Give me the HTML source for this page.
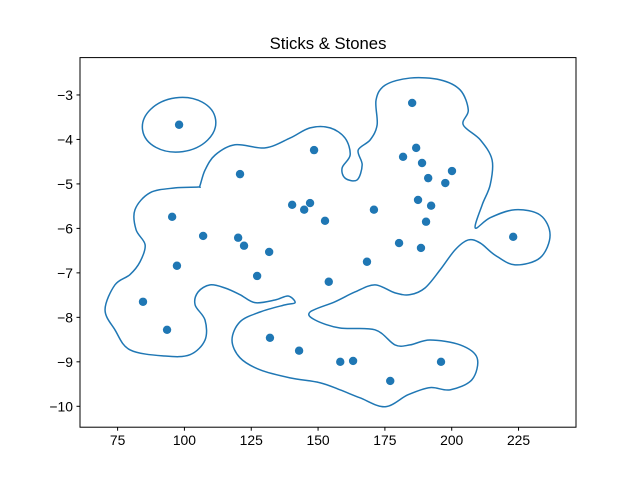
<!DOCTYPE html>
<html><head><meta charset="utf-8"><style>
body{margin:0;background:#fff;}
svg{display:block;font-family:"Liberation Sans",sans-serif;}
</style></head><body>
<svg id="chart" width="640" height="480" viewBox="0 0 640 480">
<rect width="640" height="480" fill="#fff"/>
<text x="328" y="49" text-anchor="middle" font-size="16.7" fill="#000">Sticks &amp; Stones</text>
<g id="plot"></g>
<rect x="80" y="57.6" width="496" height="369.6" fill="none" stroke="#000" stroke-width="1"/>
<g id="xaxis"></g>
<g id="yaxis"></g>
</svg>
<script>
const xTicks=[75,100,125,150,175,200,225];
const yTicks=[-3,-4,-5,-6,-7,-8,-9,-10];
const ptX=[98.0,185.2,186.7,181.8,188.9,200.1,191.2,197.6,148.5,120.8,187.4,192.3,140.3,144.8,147.0,152.6,170.9,190.4,95.4,107.0,120.1,122.3,131.7,180.3,188.5,223.0,97.2,127.2,168.3,154.0,84.5,93.5,132.0,142.9,158.3,163.1,196.0,177.0];
const ptY=[-3.67,-3.18,-4.19,-4.39,-4.53,-4.71,-4.87,-4.98,-4.24,-4.78,-5.36,-5.49,-5.47,-5.58,-5.43,-5.83,-5.58,-5.85,-5.74,-6.17,-6.21,-6.39,-6.53,-6.33,-6.44,-6.19,-6.84,-7.07,-6.75,-7.20,-7.65,-8.28,-8.46,-8.75,-9.00,-8.98,-9.00,-9.43];
const contourX=[105.8,107.7,111.5,118.9,130.2,139.5,147.0,154.5,160.1,162.0,159.0,160.1,164.6,166.5,165.0,169.5,172.1,171.7,175.1,184.4,195.7,203.2,206.2,204.3,210.7,215.1,214.4,211.4,208.8,214.4,223.7,233.1,236.8,233.1,223.7,216.2,210.7,206.2,201.3,195.7,190.0,184.4,178.8,171.3,163.8,156.3,147.0,148.9,158.2,171.3,178.8,184.4,191.9,203.2,209.5,207.6,199.4,191.9,183.7,175.1,165.7,158.2,150.7,139.5,128.3,120.8,117.8,120.8,128.3,137.6,141.4,138.8,133.9,126.4,120.8,115.2,109.6,105.1,104.0,107.7,107.7,102.1,92.7,79.6,74.0,70.3,74.0,79.6,83.4,85.3,81.9,81.5,87.1,96.5,105.1];
const contourY=[-5.04,-4.69,-4.35,-4.12,-4.19,-3.97,-3.74,-3.74,-3.97,-4.35,-4.64,-4.87,-4.91,-4.57,-4.24,-4.01,-3.67,-3.11,-2.78,-2.62,-2.66,-2.89,-3.34,-3.67,-4.01,-4.46,-5.02,-5.47,-5.99,-5.76,-5.58,-5.70,-6.15,-6.66,-6.82,-6.60,-6.33,-6.26,-6.48,-6.93,-7.34,-7.49,-7.45,-7.27,-7.43,-7.65,-7.88,-8.06,-8.24,-8.28,-8.62,-8.62,-8.51,-8.62,-8.91,-9.40,-9.63,-9.58,-9.74,-10.01,-9.81,-9.63,-9.47,-9.36,-9.18,-8.91,-8.51,-8.10,-7.88,-7.72,-7.67,-7.52,-7.61,-7.67,-7.49,-7.34,-7.27,-7.43,-7.72,-8.06,-8.51,-8.84,-8.87,-8.73,-8.28,-7.83,-7.27,-7.04,-6.75,-6.37,-6.03,-5.58,-5.20,-5.09,-5.07];
const ringCenter=[98.0,-3.67];
const ringRadius=[13.8,0.61];
const X0=60.93,X1=246.5,Y0=-10.47,Y1=-2.16;
const L=80,R=576,T=57.6,B=427.2;
const sx=v=>L+(v-X0)/(X1-X0)*(R-L);
const sy=v=>B-(v-Y0)/(Y1-Y0)*(B-T);
const NS="http://www.w3.org/2000/svg";
const mk=(t,a,p)=>{const e=document.createElementNS(NS,t);for(const k in a)e.setAttribute(k,a[k]);p.appendChild(e);return e;};
const plot=document.getElementById('plot');
function smooth(xs,ys){const n=xs.length;const P=xs.map((x,i)=>[sx(x),sy(ys[i])]);let d=`M${P[0][0]},${P[0][1]}`;
for(let i=0;i<n;i++){const p0=P[(i-1+n)%n],p1=P[i],p2=P[(i+1)%n],p3=P[(i+2)%n];
d+=`C${p1[0]+(p2[0]-p0[0])/6},${p1[1]+(p2[1]-p0[1])/6} ${p2[0]-(p3[0]-p1[0])/6},${p2[1]-(p3[1]-p1[1])/6} ${p2[0]},${p2[1]}`;}
return d+'Z';}
const c=mk('path',{d:smooth(contourX,contourY),fill:'none',stroke:'#1f77b4','stroke-width':1.5},plot);


const ring=mk('ellipse',{cx:sx(ringCenter[0]),cy:sy(ringCenter[1]),rx:sx(ringCenter[0]+ringRadius[0])-sx(ringCenter[0]),ry:sy(ringCenter[1]-ringRadius[1])-sy(ringCenter[1]),fill:'none',stroke:'#1f77b4','stroke-width':1.5,transform:`rotate(-8 ${sx(ringCenter[0])} ${sy(ringCenter[1])})`},plot);


ptX.forEach((x,i)=>{const p=mk('circle',{cx:sx(x),cy:sy(ptY[i]),r:4.2,fill:'#1f77b4'},plot);

});
const xa=document.getElementById('xaxis'),ya=document.getElementById('yaxis');
xTicks.forEach(v=>{const x=sx(v);mk('line',{x1:x,x2:x,y1:B,y2:B+3.5,stroke:'#000'},xa);
const t=mk('text',{x:x,y:B+18,'text-anchor':'middle','font-size':13.9},xa);t.textContent=v;

});
yTicks.forEach(v=>{const y=sy(v);mk('line',{x1:L-3.5,x2:L,y1:y,y2:y,stroke:'#000'},ya);
const t=mk('text',{x:L-7,y:y+5,'text-anchor':'end','font-size':13.9},ya);t.textContent='\u2212'+Math.abs(v);

});
</script>
</body></html>
